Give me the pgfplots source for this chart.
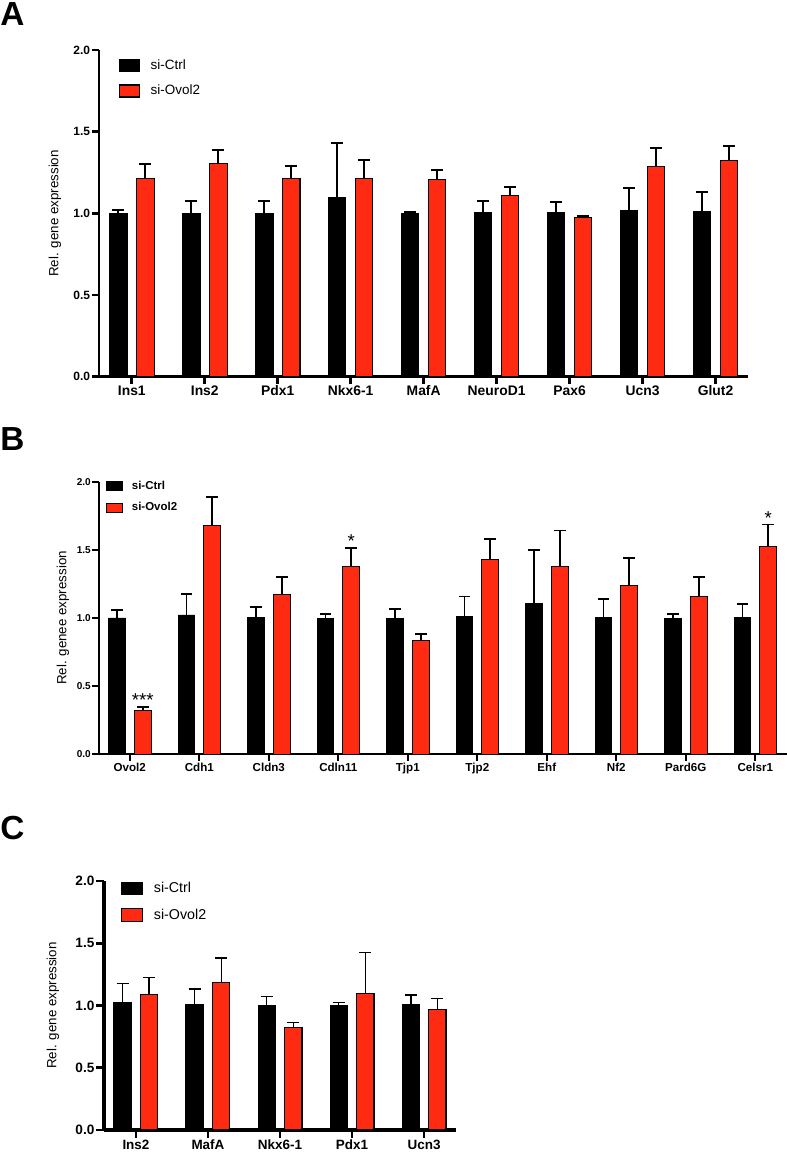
\documentclass[border=0pt]{standalone}
\usepackage{fontspec}
\setmainfont{Liberation Sans}
\usepackage{pgfplots}
\usepackage{pgfplotstable}
\pgfplotsset{compat=1.18}
\definecolor{ovred}{RGB}{254,42,18}

\pgfplotstableread{
x c ce r re
0 1.000 0.020 1.215 0.090
1 1.000 0.076 1.303 0.084
2 1.000 0.074 1.215 0.073
3 1.096 0.332 1.215 0.112
4 1.000 0.010 1.209 0.059
5 1.005 0.073 1.110 0.054
6 1.003 0.064 0.972 0.012
7 1.018 0.140 1.285 0.114
8 1.012 0.117 1.323 0.090
}\dataA

\pgfplotstableread{
x c ce r re
0 1.000 0.061 0.320 0.029
1 1.022 0.154 1.677 0.209
2 1.002 0.081 1.171 0.130
3 0.995 0.037 1.381 0.133
4 0.998 0.068 0.836 0.049
5 1.012 0.145 1.428 0.154
6 1.108 0.389 1.381 0.260
7 1.007 0.130 1.237 0.203
8 0.995 0.037 1.157 0.144
9 1.002 0.101 1.526 0.159
}\dataB

\pgfplotstableread{
x c ce r re
0 1.020 0.158 1.087 0.139
1 1.009 0.124 1.181 0.201
2 0.998 0.073 0.822 0.043
3 0.996 0.027 1.098 0.329
4 1.004 0.078 0.966 0.089
}\dataC

\pgfplotsset{
  panel/.style={
    scale only axis, anchor=south west, clip=false,
    axis x line*=bottom, axis y line*=left,
    ymin=0, ymax=2, ytick={0,0.5,1,1.5,2},
    yticklabel style={/pgf/number format/fixed, /pgf/number format/fixed zerofill, /pgf/number format/precision=1, /pgf/number format/assume math mode=true},
    tick align=outside,
    xtick pos=bottom, ytick pos=left,
    legend cell align=left,
  },
  barc/.style={ybar, bar shift=0pt, bar width=0.24, fill=black, draw=black,
    error bars/y dir=plus, error bars/y explicit},
  barr/.style={ybar, bar shift=0pt, bar width=0.24, fill=ovred, draw=black,
    error bars/y dir=plus, error bars/y explicit},
  ebA/.style={error bars/error mark=|, error bars/error bar style={line width=1.5pt, black}, error bars/error mark options={line width=1.5pt, mark size=4.6pt, black}},
  ebB/.style={error bars/error mark=|, error bars/error bar style={line width=1.3pt, black}, error bars/error mark options={line width=1.3pt, mark size=4.4pt, black}},
  ebC/.style={error bars/error mark=|, error bars/error bar style={line width=1.2pt, black}, error bars/error mark options={line width=1.2pt, mark size=4.6pt, black}},
}

\begin{document}
\begin{tikzpicture}
\useasboundingbox (0,0) rectangle (590.25pt,864.75pt);

% panel letters
\node[anchor=north west, inner sep=0pt, font=\fontsize{25}{28}\selectfont\bfseries] at (0pt,863pt) {A};
\node[anchor=north west, inner sep=0pt, font=\fontsize{25}{28}\selectfont\bfseries] at (0pt,544pt) {B};
\node[anchor=north west, inner sep=0pt, font=\fontsize{25}{28}\selectfont\bfseries] at (0pt,253pt) {C};

% ---------------- Panel A
\begin{axis}[panel,
  at={(74.25pt,582.2pt)}, width=487pt, height=245pt,
  xmin=-0.45, xmax=8.45,
  xtick={0,...,8},
  xticklabels={Ins1,Ins2,Pdx1,Nkx6-1,MafA,NeuroD1,Pax6,Ucn3,Glut2},
  xticklabel style={font=\fontsize{10.4}{12}\selectfont\bfseries, inner sep=1pt},
  yticklabel style={font=\fontsize{9}{10}\selectfont\bfseries, inner sep=1pt},
  axis line style={-, line width=2.2pt},
  major tick length=5.5pt,
  every tick/.style={black, line width=2pt},
  ylabel={Rel. gene expression},
  ylabel style={font=\fontsize{10.5}{12}\selectfont\bfseries},
  every axis y label/.style={at={([xshift=-33pt]rel axis cs:0,0.5)}, rotate=90, anchor=center},
  legend style={draw=none, fill=none, at={(rel axis cs:0,1)}, anchor=north west,
    xshift=15pt, yshift=-7pt, inner sep=0pt, outer sep=0pt, row sep=9pt, column sep=8pt,
    font=\fontsize{10.1}{11}\selectfont, nodes={inner sep=0pt}},
  legend image code/.code={\draw[#1, line width=0.8pt] (0pt,-4.5pt) rectangle (15pt,4.5pt);},
]
\addplot[barc, ebA, line width=0.8pt] table[x expr=\thisrow{x}-0.185, y=c, y error=ce] {\dataA};
\addplot[barr, ebA, line width=0.8pt] table[x expr=\thisrow{x}+0.185, y=r, y error=re] {\dataA};
\legend{si-Ctrl, si-Ovol2}
\end{axis}

% ---------------- Panel B
\begin{axis}[panel,
  at={(74.25pt,299pt)}, width=516pt, height=204.5pt,
  xmin=-0.443, xmax=9.456,
  xtick={0,...,9},
  xticklabels={Ovol2,Cdh1,Cldn3,Cdln11,Tjp1,Tjp2,Ehf,Nf2,Pard6G,Celsr1},
  xticklabel style={font=\fontsize{8.7}{10}\selectfont\bfseries, inner sep=1pt},
  yticklabel style={font=\fontsize{7.5}{9}\selectfont\bfseries, inner sep=1pt},
  axis line style={-, line width=1.6pt},
  major tick length=5pt,
  every tick/.style={black, line width=1.6pt},
  ylabel={Rel. genee expression},
  ylabel style={font=\fontsize{9.3}{11}\selectfont},
  every axis y label/.style={at={([xshift=-27pt]rel axis cs:0,0.5)}, rotate=90, anchor=center},
  legend style={draw=none, fill=none, at={(rel axis cs:0,1)}, anchor=north west,
    xshift=5pt, yshift=0.75pt, inner sep=0pt, outer sep=0pt, row sep=8.5pt, column sep=6.5pt,
    font=\fontsize{8.6}{10}\selectfont\bfseries, nodes={inner sep=0pt}},
  legend image code/.code={\draw[#1, line width=0.7pt] (0pt,-3.6pt) rectangle (12.5pt,3.6pt);},
]
\addplot[barc, ebB, line width=0.7pt] table[x expr=\thisrow{x}-0.185, y=c, y error=ce] {\dataB};
\addplot[barr, ebB, line width=0.7pt] table[x expr=\thisrow{x}+0.185, y=r, y error=re] {\dataB};
\legend{si-Ctrl, si-Ovol2}
\node[anchor=base, inner sep=0pt, font=\fontsize{14}{14}\selectfont] at (axis cs:0.185,0.352) {***};
\node[anchor=base, inner sep=0pt, font=\fontsize{14}{14}\selectfont] at (axis cs:3.185,1.517) {*};
\node[anchor=base, inner sep=0pt, font=\fontsize{14}{14}\selectfont] at (axis cs:9.185,1.688) {*};
\end{axis}

% ---------------- Panel C
\begin{axis}[panel,
  at={(78pt,17.25pt)}, width=264pt, height=186.75pt,
  xmin=-0.444, xmax=4.444,
  xtick={0,...,4},
  xticklabels={Ins2,MafA,Nkx6-1,Pdx1,Ucn3},
  xticklabel style={font=\fontsize{10.1}{12}\selectfont\bfseries, inner sep=1pt},
  yticklabel style={font=\fontsize{10.2}{12}\selectfont\bfseries, inner sep=1pt},
  axis line style={-, line width=2.3pt},
  major tick length=6pt,
  every tick/.style={black, line width=2pt},
  ylabel={Rel. gene expression},
  ylabel style={font=\fontsize{10.9}{12}\selectfont\bfseries},
  every axis y label/.style={at={([xshift=-38.25pt]rel axis cs:0,0.5)}, rotate=90, anchor=center},
  legend style={draw=none, fill=none, at={(rel axis cs:0,1)}, anchor=north west,
    xshift=12.5pt, yshift=-0.5pt, inner sep=0pt, outer sep=0pt, row sep=10pt, column sep=7.8pt,
    font=\fontsize{10.7}{12}\selectfont, nodes={inner sep=0pt}},
  legend image code/.code={\draw[#1, line width=0.8pt] (0pt,-4.6pt) rectangle (16.3pt,4.6pt);},
]
\addplot[barc, ebC, line width=0.8pt] table[x expr=\thisrow{x}-0.185, y=c, y error=ce] {\dataC};
\addplot[barr, ebC, line width=0.8pt] table[x expr=\thisrow{x}+0.185, y=r, y error=re] {\dataC};
\legend{si-Ctrl, si-Ovol2}
\end{axis}
\end{tikzpicture}
\end{document}
